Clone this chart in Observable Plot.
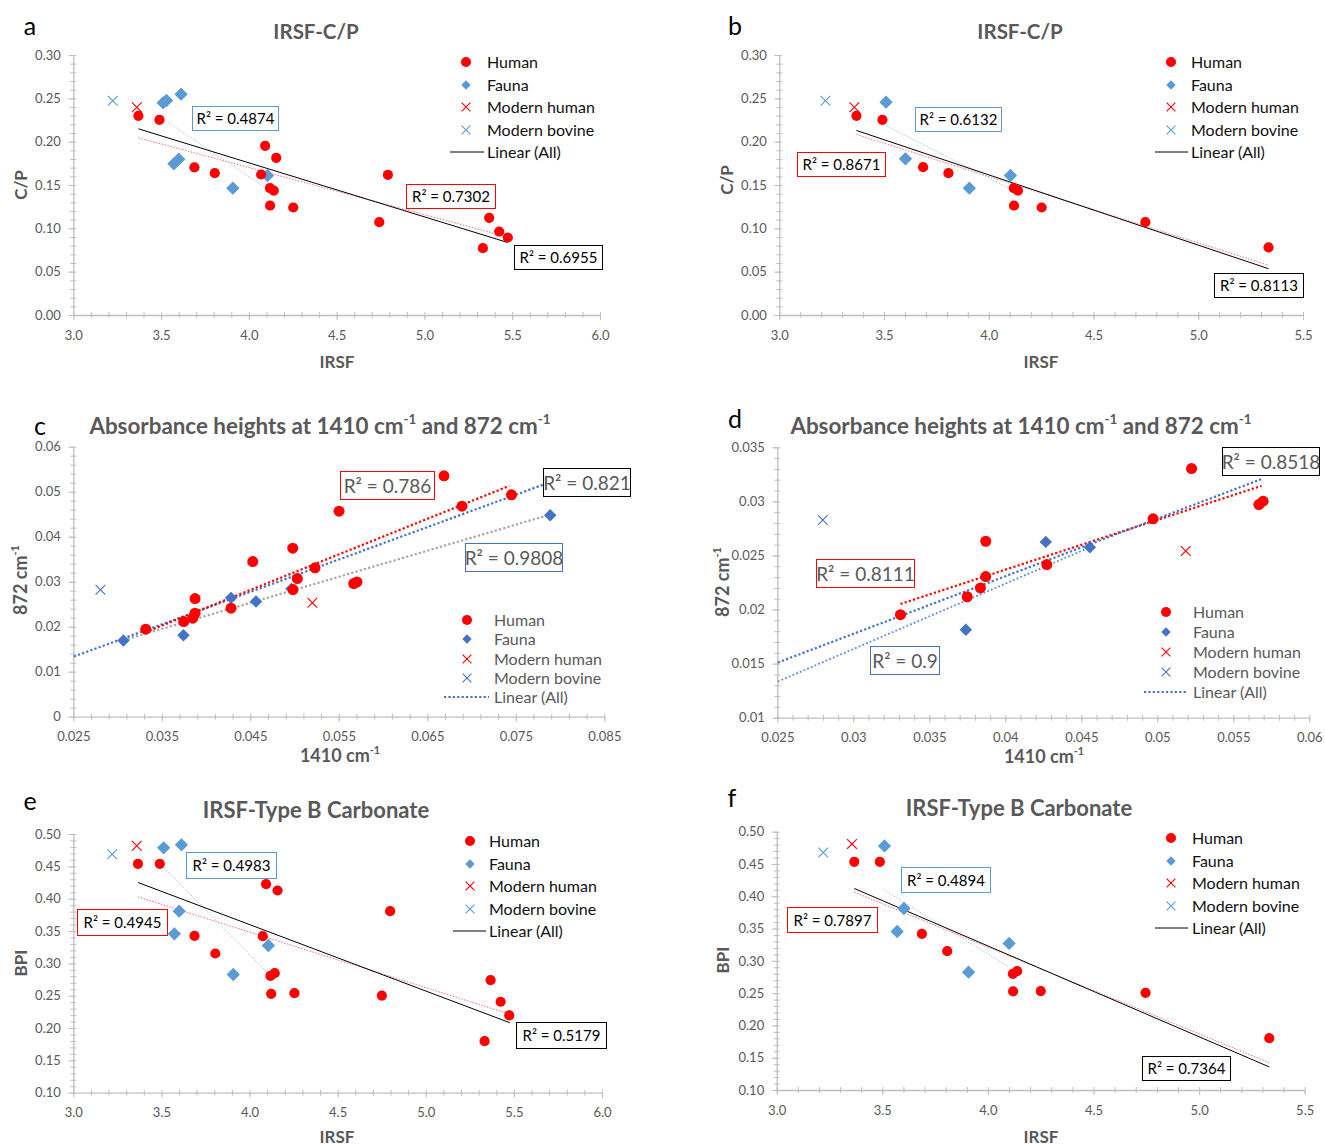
<!DOCTYPE html>
<html><head><meta charset="utf-8">
<script src="https://cdn.jsdelivr.net/npm/d3@7"></script>
<script src="https://cdn.jsdelivr.net/npm/@observablehq/plot@0.6"></script>
<style>
body{margin:0;background:#fff;}
#root{position:relative;width:1325px;height:1146px;overflow:hidden;font-family:Lato,"Open Sans",sans-serif;background:#fff;}
.abs{position:absolute;white-space:nowrap;line-height:1;}
.ctr{transform:translate(-50%,-50%);}
.rot{transform:translate(-50%,-50%) rotate(-90deg);}
.title{font-weight:bold;color:#595959;}
.axt{font-weight:bold;color:#595959;}
.letter{font-size:25px;color:#000;}
.box{box-sizing:border-box;background:#fff;display:flex;align-items:center;justify-content:center;}
sup{font-size:0.6em;line-height:0;vertical-align:0.75em;}
</style></head><body><div id="root"></div>
<script>
// ---------------- DATA ----------------
// Panel a: IRSF vs C/P
const humanA = [[3.368,0.2304],[3.488,0.2258],[4.090,0.1958],[4.153,0.1819],[3.687,0.1708],[3.803,0.1642],[4.067,0.1627],[4.117,0.1469],[4.139,0.1442],[4.118,0.1269],[4.250,0.1246],[4.740,0.1077],[4.789,0.1623],[5.366,0.1127],[5.423,0.0969],[5.472,0.0900],[5.330,0.0777]];
const faunaA = [[3.509,0.2454],[3.528,0.2481],[3.611,0.2554],[3.570,0.1750],[3.598,0.1804],[3.906,0.1469],[4.103,0.1615]];
const modernHumanA = [[3.359,0.2404]];
const modernBovineA = [[3.222,0.2477]];
const trendA = [
  {series:"Human", x1:3.368, y1:0.2050, x2:5.472, y2:0.0905},
  {series:"Fauna", x1:3.509, y1:0.2266, x2:4.103, y2:0.1458},
  {series:"All",   x1:3.368, y1:0.2154, x2:5.472, y2:0.0842}];
const r2A = {Fauna:"0.4874", Human:"0.7302", All:"0.6955"};

// Panel b: IRSF vs C/P (subset)
const humanB = [[3.366,0.2304],[3.490,0.2258],[3.684,0.1712],[3.805,0.1642],[4.117,0.1469],[4.137,0.1442],[4.118,0.1269],[4.250,0.1246],[4.745,0.1077],[5.333,0.0785]];
const faunaB = [[3.507,0.2462],[3.600,0.1808],[3.905,0.1469],[4.101,0.1615]];
const modernHumanB = [[3.356,0.2404]];
const modernBovineB = [[3.218,0.2477]];
const trendB = [
  {series:"Human", x1:3.366, y1:0.2089, x2:5.333, y2:0.0580},
  {series:"Fauna", x1:3.507, y1:0.2190, x2:4.101, y2:0.1460},
  {series:"All",   x1:3.366, y1:0.2135, x2:5.333, y2:0.0540}];
const r2B = {Fauna:"0.6132", Human:"0.8671", All:"0.8113"};

// Panel c: absorbance 1410 vs 872
const humanC = [[0.03313,0.01956],[0.03742,0.02126],[0.03844,0.02200],[0.03870,0.02310],[0.03870,0.02637],[0.04277,0.02422],[0.04522,0.03459],[0.04974,0.03756],[0.04977,0.02837],[0.05026,0.03081],[0.05226,0.03319],[0.05497,0.04578],[0.05663,0.02970],[0.05700,0.03007],[0.06683,0.05363],[0.06886,0.04689],[0.07446,0.04942]];
const faunaC = [[0.03061,0.01704],[0.03739,0.01822],[0.04277,0.02652],[0.04559,0.02570],[0.04959,0.02852],[0.07883,0.04489]];
const modernHumanC = [[0.05196,0.02541]];
const modernBovineC = [[0.02801,0.02830]];
const trendC = [
  {series:"Fauna", x1:0.0306, y1:0.0171, x2:0.0786, y2:0.0449},
  {series:"All",   x1:0.0250, y1:0.01348, x2:0.0785, y2:0.0520},
  {series:"Human", x1:0.0331, y1:0.0189, x2:0.0742, y2:0.0514}];
const r2C = {Human:"0.786", All:"0.821", Fauna:"0.9808"};

// Panel d: absorbance 1410 vs 872 (subset)
const humanD = [[0.03307,0.01957],[0.03746,0.02123],[0.03833,0.02204],[0.03868,0.02309],[0.03868,0.02636],[0.04270,0.02420],[0.04969,0.02843],[0.05222,0.03308],[0.05665,0.02975],[0.05693,0.03006]];
const faunaD = [[0.03737,0.01818],[0.04263,0.02630],[0.04553,0.02580]];
const modernHumanD = [[0.05184,0.02546]];
const modernBovineD = [[0.02796,0.02833]];
const trendD = [
  {series:"Fauna", x1:0.0250, y1:0.01339, x2:0.04553, y2:0.02580},
  {series:"Human", x1:0.03307, y1:0.02056, x2:0.05682, y2:0.03148},
  {series:"All",   x1:0.0250, y1:0.01515, x2:0.05687, y2:0.03213}];
const r2D = {Human:"0.8111", Fauna:"0.9", All:"0.8518"};

// Panel e: IRSF vs BPI
const humanE = [[3.364,0.4546],[3.488,0.4546],[4.091,0.4232],[4.156,0.4134],[4.795,0.3814],[4.072,0.3428],[3.685,0.3433],[3.803,0.3160],[4.116,0.2814],[4.140,0.2856],[4.120,0.2536],[4.252,0.2546],[4.748,0.2510],[5.365,0.2748],[5.422,0.2414],[5.471,0.2203],[5.331,0.1805]];
const faunaE = [[3.510,0.4794],[3.611,0.4840],[3.598,0.3814],[3.571,0.3464],[4.104,0.3284],[3.905,0.2835]];
const modernHumanE = [[3.357,0.4825]];
const modernBovineE = [[3.218,0.4696]];
const trendE = [
  {series:"Human", x1:3.364, y1:0.4036, x2:5.471, y2:0.2225},
  {series:"Fauna", x1:3.500, y1:0.4520, x2:4.104, y2:0.2850},
  {series:"All",   x1:3.364, y1:0.4258, x2:5.474, y2:0.2090}];
const r2E = {Fauna:"0.4983", Human:"0.4945", All:"0.5179"};

// Panel f: IRSF vs BPI (subset)
const humanF = [[3.365,0.4541],[3.486,0.4541],[3.685,0.3426],[3.805,0.3158],[4.116,0.2807],[4.136,0.2848],[4.117,0.2534],[4.248,0.2539],[4.744,0.2513],[5.330,0.1810]];
const faunaF = [[3.508,0.4788],[3.600,0.3818],[3.568,0.3462],[4.098,0.3277],[3.906,0.2833]];
const modernHumanF = [[3.354,0.4819]];
const modernBovineF = [[3.218,0.4685]];
const trendF = [
  {series:"Human", x1:3.365, y1:0.4071, x2:5.330, y2:0.1430},
  {series:"Fauna", x1:3.505, y1:0.4107, x2:4.098, y2:0.2910},
  {series:"All",   x1:3.365, y1:0.4128, x2:5.330, y2:0.1365}];
const r2F = {Fauna:"0.4894", Human:"0.7897", All:"0.7364"};

// Tick values
const xTicksIRSF6 = [3.0,3.5,4.0,4.5,5.0,5.5,6.0];
const xTicksIRSF55 = [3.0,3.5,4.0,4.5,5.0,5.5];
const yTicksCP = [0.00,0.05,0.10,0.15,0.20,0.25,0.30];
const yTicksBPI = [0.10,0.15,0.20,0.25,0.30,0.35,0.40,0.45,0.50];
const xTicksC = [0.025,0.035,0.045,0.055,0.065,0.075,0.085];
const yTicksC = [0,0.01,0.02,0.03,0.04,0.05,0.06];
const xTicksD = [0.025,0.03,0.035,0.04,0.045,0.05,0.055,0.06];
const yTicksD = [0.01,0.015,0.02,0.025,0.03,0.035];

const legendLabels = ["Human","Fauna","Modern human","Modern bovine","Linear (All)"];
const titles = {a:"IRSF-C/P", b:"IRSF-C/P", c:"Absorbance heights at 1410 cm<sup>-1</sup> and 872 cm<sup>-1</sup>", d:"Absorbance heights at 1410 cm<sup>-1</sup> and 872 cm<sup>-1</sup>", e:"IRSF-Type B Carbonate", f:"IRSF-Type B Carbonate"};
const xLabels = {a:"IRSF", b:"IRSF", c:"1410 cm<sup>-1</sup>", d:"1410 cm<sup>-1</sup>", e:"IRSF", f:"IRSF"};
const yLabels = {a:"C/P", b:"C/P", c:"872 cm<sup>-1</sup>", d:"872 cm<sup>-1</sup>", e:"BPI", f:"BPI"};

// ---------------- LAYOUT / STYLE ----------------
const AX = "#bfbfbf", TXT = "#595959", RED = "#ff0000";
const f1 = d3.format(".1f"), f2 = d3.format(".2f"), f3 = d3.format(".3f");
const fG = d => String(+d.toFixed(3));
const rng = (a,b,s) => d3.range(Math.round((b-a)/s)+1).map(i => +(a+i*s).toFixed(5));

const styleXL = {
  fauna:"#5b9bd5", trend:{
    Human:{stroke:"#ff5a5a", strokeWidth:0.9, strokeDasharray:"1.5,1.5"},
    Fauna:{stroke:"#9dc3e6", strokeWidth:0.9, strokeDasharray:"1.5,1.5"},
    All:{stroke:"#000", strokeWidth:1}},
  legText:"#111", boxText:"#000", boxFont:15, legFont:16, axFont:17, rH:5.1, rF:6
};
const styleAbs = {
  fauna:"#4472c4", trend:{
    Human:{stroke:"#ff0000", strokeWidth:2.2, strokeDasharray:"2.2,2.2"},
    Fauna:{stroke:"#a5a5a5", strokeWidth:2.2, strokeDasharray:"2.2,2.2"},
    All:{stroke:"#4472c4", strokeWidth:2.2, strokeDasharray:"2.2,2.2"}},
  legText:TXT, boxText:TXT, boxFont:19, legFont:16, axFont:18, rH:5.5, rF:5.6
};
const styleAbsD = {...styleAbs, trend:{...styleAbs.trend, Fauna:{stroke:"#5b8bd8", strokeWidth:1.8, strokeDasharray:"1.8,2.2"}}};

const panels = [
  {id:"a", left:0, top:0, width:660, height:380, m:[55,60,65,73.3], x:[3,6], y:[0,0.3],
   xt:xTicksIRSF6, xm:rng(3,6,0.1), yt:yTicksCP, ym:rng(0,0.3,0.01), xf:f1, yf:f2, st:styleXL,
   d:{human:humanA, fauna:faunaA, mh:modernHumanA, mb:modernBovineA, trend:trendA, r2:r2A},
   title:[316,31,20.5], letter:[30,25], xl:[337,361], yl:[20,185],
   legend:{mx:466, tx:487, y0:62, dy:22.6, l0:450, l1:484},
   boxes:{Fauna:[192,106,87,25], Human:[406,184,90,25], All:[514,245,89,25]}},
  {id:"b", left:662, top:0, width:663, height:380, m:[55,22,65,117.3], x:[3,5.5], y:[0,0.3],
   xt:xTicksIRSF55, xm:rng(3,5.5,0.1), yt:yTicksCP, ym:rng(0,0.3,0.01), xf:f1, yf:f2, st:styleXL,
   d:{human:humanB, fauna:faunaB, mh:modernHumanB, mb:modernBovineB, trend:trendB, r2:r2B},
   title:[1020,31,20.5], letter:[735,25], xl:[1041,361], yl:[726,180],
   legend:{mx:1171, tx:1191, y0:62, dy:22.6, l0:1155, l1:1188},
   boxes:{Fauna:[915,107,87,25], Human:[797,152,89,25], All:[1214,273,90,25]}},
  {id:"c", left:0, top:390, width:660, height:390, m:[56.7,55.7,63.3,73.3], x:[0.025,0.085], y:[0,0.06],
   xt:xTicksC, xm:rng(0.025,0.085,0.002), yt:yTicksC, ym:rng(0,0.06,0.002), xf:f3, yf:d => d===0 ? "0" : f2(d), st:styleAbs,
   d:{human:humanC, fauna:faunaC, mh:modernHumanC, mb:modernBovineC, trend:trendC, r2:r2C},
   title:[320,426,22.4], letter:[40,425], xl:[340,755], yl:[20,580],
   legend:{mx:467, tx:494, y0:620, dy:19.3, l0:444, l1:489},
   boxes:{Human:[340,471,95,29], All:[543,468,88,29], Fauna:[465,543,98,29]}},
  {id:"d", left:662, top:390, width:663, height:390, m:[57.3,15.7,62.3,115.3], x:[0.025,0.06], y:[0.01,0.035],
   xt:xTicksD, xm:rng(0.025,0.06,0.001), yt:yTicksD, ym:rng(0.01,0.035,0.001), xf:fG, yf:fG, st:styleAbsD,
   d:{human:humanD, fauna:faunaD, mh:modernHumanD, mb:modernBovineD, trend:trendD, r2:r2D},
   title:[1021,426,22.4], letter:[735,418], xl:[1044,756], yl:[722,582],
   legend:{mx:1166, tx:1193, y0:612, dy:20, l0:1144, l1:1188},
   boxes:{Human:[816,559,99,29], Fauna:[870,646,70,29], All:[1222,447,98,29]}},
  {id:"e", left:0, top:780, width:660, height:366, m:[54,58,53.3,73.3], x:[3,6], y:[0.1,0.5],
   xt:xTicksIRSF6, xm:rng(3,6,0.1), yt:yTicksBPI, ym:rng(0.1,0.5,0.01), xf:f1, yf:f2, st:styleXL,
   d:{human:humanE, fauna:faunaE, mh:modernHumanE, mb:modernBovineE, trend:trendE, r2:r2E},
   title:[316,810,22], letter:[30,800], xl:[337,1136], yl:[20,963],
   legend:{mx:470, tx:489, y0:841, dy:22.6, l0:453, l1:486},
   boxes:{Fauna:[186,852,91,27], Human:[77,909,91,27], All:[516,1022,91,27]}},
  {id:"f", left:662, top:780, width:663, height:366, m:[51.7,20.3,56,114.7], x:[3,5.5], y:[0.1,0.5],
   xt:xTicksIRSF55, xm:rng(3,5.5,0.1), yt:yTicksBPI, ym:rng(0.1,0.5,0.01), xf:f1, yf:f2, st:styleXL,
   d:{human:humanF, fauna:faunaF, mh:modernHumanF, mb:modernBovineF, trend:trendF, r2:r2F},
   title:[1019,808,22], letter:[732,797], xl:[1041,1136], yl:[722,960],
   legend:{mx:1171, tx:1192, y0:838, dy:22.6, l0:1155, l1:1188},
   boxes:{Fauna:[901,867,90,26], Human:[787,907,91,26], All:[1142,1056,89,25]}}
];

const root = document.getElementById("root");
function addDiv(cls, html, css) {
  const el = document.createElement("div");
  el.className = "abs " + cls;
  el.innerHTML = html;
  Object.assign(el.style, css);
  root.appendChild(el);
  return el;
}
function markerSVG(kind, color) {
  if (kind === "circle") return `<svg width="14" height="14"><circle cx="7" cy="7" r="5" fill="${color}"/></svg>`;
  if (kind === "diamond") return `<svg width="14" height="14"><path d="M7,2.3L11.7,7L7,11.7L2.3,7Z" fill="${color}"/></svg>`;
  return `<svg width="14" height="14"><path d="M2.6,2.6L11.4,11.4M11.4,2.6L2.6,11.4" stroke="${color}" stroke-width="1.1" fill="none"/></svg>`;
}

for (const p of panels) {
  const st = p.st, d = p.d;
  const X = v => v[0], Y = v => v[1];
  const marks = [
    Plot.ruleY([p.y[0]], {stroke:AX, strokeWidth:1.3}),
    Plot.ruleX([p.x[0]], {stroke:AX, strokeWidth:1.3}),
    Plot.axisX(p.xm, {tickSize:6, dy:-3, stroke:AX, tickFormat:() => "", label:null}),
    Plot.axisX(p.xt, {tickSize:5, tickPadding:10, stroke:AX, fill:TXT, tickFormat:p.xf, fontSize:13, label:null}),
    Plot.axisY(p.ym, {tickSize:6, dx:3, stroke:AX, tickFormat:() => "", label:null}),
    Plot.axisY(p.yt, {tickSize:5, tickPadding:8, stroke:AX, fill:TXT, tickFormat:p.yf, fontSize:13, label:null}),
    ...d.trend.map(t => Plot.link([t], {x1:"x1", y1:"y1", x2:"x2", y2:"y2", ...st.trend[t.series]})),
    Plot.dot(d.mb, {x:X, y:Y, symbol:"times", r:4.5, stroke:st.fauna, strokeWidth:1.1}),
    Plot.dot(d.mh, {x:X, y:Y, symbol:"times", r:4.5, stroke:RED, strokeWidth:1.1}),
    Plot.dot(d.fauna, {x:X, y:Y, symbol:"diamond2", r:st.rF, fill:st.fauna, stroke:"none"}),
    Plot.dot(d.human, {x:X, y:Y, symbol:"circle", r:st.rH, fill:RED, stroke:"none"})
  ];
  const svg = Plot.plot({
    width:p.width, height:p.height,
    marginTop:p.m[0], marginRight:p.m[1], marginBottom:p.m[2], marginLeft:p.m[3],
    x:{domain:p.x, label:null}, y:{domain:p.y, label:null},
    style:{fontFamily:"Lato, 'Open Sans', sans-serif", background:"transparent", overflow:"visible"},
    marks
  });
  Object.assign(svg.style, {position:"absolute", left:p.left+"px", top:p.top+"px"});
  root.appendChild(svg);

  // Title, letter, axis titles
  addDiv("title ctr", titles[p.id], {left:p.title[0]+"px", top:p.title[1]+"px", fontSize:p.title[2]+"px"});
  addDiv("letter ctr", p.id, {left:p.letter[0]+"px", top:p.letter[1]+"px"});
  addDiv("axt ctr", xLabels[p.id], {left:p.xl[0]+"px", top:p.xl[1]+"px", fontSize:st.axFont+"px"});
  addDiv("axt rot", yLabels[p.id], {left:p.yl[0]+"px", top:p.yl[1]+"px", fontSize:st.axFont+"px"});

  // Legend
  const L = p.legend;
  const kinds = [["circle",RED],["diamond",st.fauna],["times",RED],["times",st.fauna]];
  legendLabels.forEach((lab, i) => {
    const cy = L.y0 + i*L.dy;
    if (i < 4) {
      addDiv("ctr", markerSVG(kinds[i][0], kinds[i][1]), {left:L.mx+"px", top:cy+"px", lineHeight:"0"});
    } else {
      const t = st.trend.All, w = L.l1 - L.l0;
      addDiv("", `<svg width="${w}" height="6"><line x1="0" y1="3" x2="${w}" y2="3" stroke="${t.stroke}" stroke-width="${t.strokeWidth}" ${t.strokeDasharray ? `stroke-dasharray="${t.strokeDasharray}"` : ""}/></svg>`,
        {left:L.l0+"px", top:(cy-3)+"px", lineHeight:"0"});
    }
    addDiv("", lab, {left:L.tx+"px", top:cy+"px", transform:"translateY(-50%)", fontSize:st.legFont+"px", color:st.legText});
  });

  // R² boxes
  const bc = {Human:RED, Fauna:st.fauna, All:"#000"};
  for (const key of Object.keys(p.boxes)) {
    const b = p.boxes[key];
    addDiv("box", "R² = " + d.r2[key], {left:b[0]+"px", top:b[1]+"px", width:b[2]+"px", height:b[3]+"px",
      border:`1.3px solid ${bc[key]}`, fontSize:st.boxFont+"px", color:st.boxText});
  }
}
</script></body></html>
